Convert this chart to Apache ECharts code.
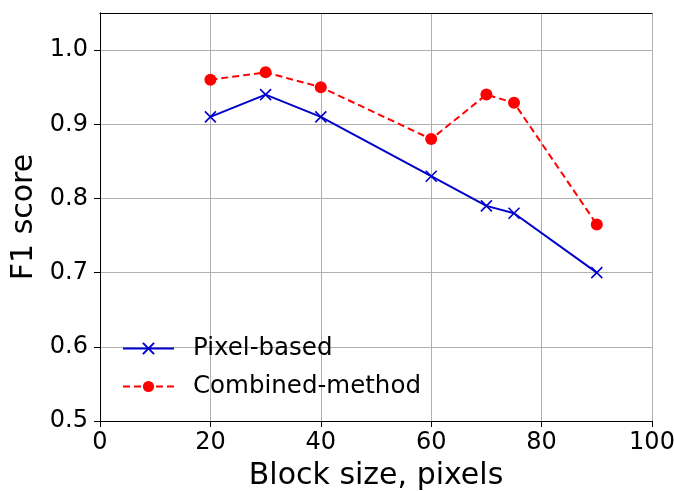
<!DOCTYPE html>
<html><head><meta charset="utf-8">
<script src="https://cdn.jsdelivr.net/npm/echarts@6/dist/echarts.min.js"></script>
<style>html,body{margin:0;padding:0;background:#fff}#c{width:674px;height:491px}</style>
</head><body><div id="c"></div>
<script>
const blockSizes = [20, 30, 40, 60, 70, 75, 90];
const pixelBased = [0.91, 0.94, 0.91, 0.83, 0.79, 0.78, 0.70];
const combinedMethod = [0.96, 0.97, 0.95, 0.88, 0.94, 0.929, 0.765];
const xTicks = [0, 20, 40, 60, 80, 100];
const yTicks = [0.5, 0.6, 0.7, 0.8, 0.9, 1.0];

const font = 'DejaVu Sans';
const chart = echarts.init(document.getElementById('c'), null, {renderer: 'canvas'});
const xMark = 'path://M0,0L10,10M10,0L0,10';
chart.setOption({
  animation: false,
  backgroundColor: '#fff',
  textStyle: {fontFamily: font},
  grid: {left: 100, right: 22, top: 13, bottom: 70, containLabel: false, outerBoundsMode: 'none'},
  legend: {
    orient: 'vertical', left: 117, top: 331, itemGap: 13,
    itemWidth: 51, itemHeight: 14,
    textStyle: {fontFamily: font, fontSize: 24.5, color: '#000', padding: [0, 0, 0, 14]},
    data: ['Pixel-based', 'Combined-method']
  },
  xAxis: [{
    type: 'value', min: 0, max: 100, interval: 20,
    name: 'Block size, pixels', nameLocation: 'middle', nameGap: 40,
    nameTextStyle: {fontFamily: font, fontSize: 30, color: '#000'},
    axisLine: {show: true, lineStyle: {color: '#000', width: 1}},
    axisTick: {show: true, length: 6, lineStyle: {color: '#000'}},
    axisLabel: {fontFamily: font, fontSize: 24, color: '#000', margin: 10,
      formatter: v => xTicks.includes(v) ? String(v) : ''},
    splitLine: {show: true, lineStyle: {color: '#b0b0b0', width: 1}}
  }, {
    type: 'value', min: 0, max: 100, position: 'top',
    axisLine: {show: true, lineStyle: {color: '#000', width: 1}},
    axisTick: {show: false}, axisLabel: {show: false}, splitLine: {show: false}
  }],
  yAxis: [{
    type: 'value', min: 0.5, max: 1.05, interval: 0.1,
    name: 'F1 score', nameLocation: 'middle', nameGap: 57,
    nameTextStyle: {fontFamily: font, fontSize: 30, color: '#000'},
    axisLine: {show: true, lineStyle: {color: '#000', width: 1}},
    axisTick: {show: true, length: 6, lineStyle: {color: '#000'}},
    axisLabel: {fontFamily: font, fontSize: 24, color: '#000', margin: 12, showMaxLabel: false,
      formatter: v => { const r = Math.round(v * 10) / 10; return yTicks.some(t => Math.abs(t - v) < 1e-6) ? r.toFixed(1) : ''; }},
    splitLine: {show: true, lineStyle: {color: '#b0b0b0', width: 1}}
  }, {
    type: 'value', min: 0.5, max: 1.05, position: 'right',
    axisLine: {show: true, lineStyle: {color: '#000', width: 1}},
    axisTick: {show: false}, axisLabel: {show: false}, splitLine: {show: false}
  }],
  series: [{
    name: 'Pixel-based', type: 'line',
    data: blockSizes.map((x, i) => [x, pixelBased[i]]),
    symbol: xMark, symbolSize: 11, showAllSymbol: true,
    lineStyle: {color: '#0000cc', width: 2},
    itemStyle: {color: 'rgba(0,0,0,0)', borderColor: '#0000cc', borderWidth: 1.6}
  }, {
    name: 'Combined-method', type: 'line',
    data: blockSizes.map((x, i) => [x, combinedMethod[i]]),
    symbol: 'circle', symbolSize: 12,
    lineStyle: {color: '#ff0000', width: 2, type: [7, 4]},
    itemStyle: {color: '#ff0000', borderWidth: 0}
  }]
});
</script></body></html>
